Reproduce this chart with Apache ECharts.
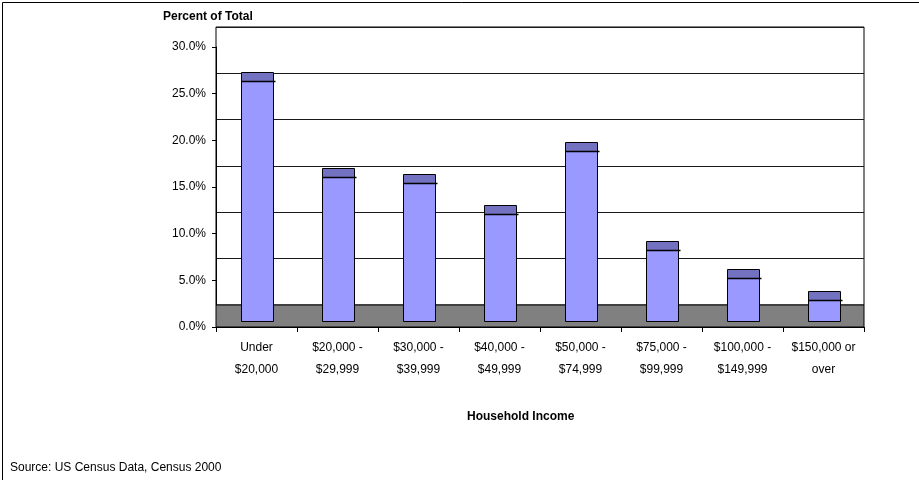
<!DOCTYPE html>
<html>
<head>
<meta charset="utf-8">
<title>Household Income Distribution</title>
<script src="https://cdn.jsdelivr.net/npm/echarts@6/dist/echarts.min.js"></script>
<style>
  html, body { margin: 0; padding: 0; background: #fff; }
  #chart { width: 919px; height: 480px; }
</style>
</head>
<body>
<div id="chart"></div>
<script>
// Household income brackets and their share of all households (percent)
const categories = [
  'Under\n$20,000',
  '$20,000 -\n$29,999',
  '$30,000 -\n$39,999',
  '$40,000 -\n$49,999',
  '$50,000 -\n$74,999',
  '$75,000 -\n$99,999',
  '$100,000 -\n$149,999',
  '$150,000 or\nover'
];
const shares = [25.7, 15.4, 14.8, 11.5, 18.2, 7.6, 4.6, 2.2];
const valueTicks = [0, 5, 10, 15, 20, 25, 30];

// 3D look: floor depth, how far the column fronts sit behind the floor edge,
// and the visible depth of each column's top face (all in pixels)
const FLOOR_DEPTH = 22;
const FRONT_LIFT = 6;
const TOP_DEPTH = 9;

const FONT = '"Liberation Sans", Arial, sans-serif';

const chart = echarts.init(document.getElementById('chart'), null, { renderer: 'canvas' });

const option = {
  backgroundColor: '#ffffff',
  animation: false,
  textStyle: { fontFamily: FONT, color: '#000' },
  title: [
    { text: 'Percent of Total', left: 163, top: 11, padding: 0,
      textStyle: { fontFamily: FONT, fontSize: 12, fontWeight: 'bold', color: '#000' } },
    { text: 'Household Income', left: 467, top: 411, padding: 0,
      textStyle: { fontFamily: FONT, fontSize: 12, fontWeight: 'bold', color: '#000' } },
    { text: 'Source: US Census Data, Census 2000', left: 10, top: 462, padding: 0,
      textStyle: { fontFamily: FONT, fontSize: 12, fontWeight: 'normal', color: '#000' } }
  ],
  graphic: [
    // chart frame
    { type: 'rect', shape: { x: 2.5, y: 2.5, width: 1000, height: 1000 },
      style: { fill: 'none', stroke: '#000', lineWidth: 1 }, silent: true, z: -10 }
  ],
  grid: [
    // front plane: value axis, category axis, columns
    { left: 216, right: 55, top: 47, bottom: 153 },
    // back wall with its gridlines
    { left: 216, right: 55, top: 27, bottom: 175, show: true,
      borderColor: '#000', borderWidth: 1, backgroundColor: 'transparent' }
  ],
  xAxis: [
    {
      type: 'category', gridIndex: 0, data: categories,
      axisLine: { show: true, lineStyle: { color: '#000', width: 1 } },
      axisTick: { show: true, interval: 0, length: 5, lineStyle: { color: '#000' } },
      axisLabel: { interval: 0, margin: 10, fontSize: 12, lineHeight: 22, color: '#000', fontFamily: FONT },
      splitLine: { show: false }
    },
    { type: 'category', gridIndex: 1, data: categories, show: false }
  ],
  yAxis: [
    {
      type: 'value', gridIndex: 0, min: valueTicks[0], max: valueTicks[valueTicks.length - 1], interval: 5,
      axisLine: { show: true, lineStyle: { color: '#000', width: 1 } },
      axisTick: { show: true, length: 4, lineStyle: { color: '#000' } },
      axisLabel: { margin: 10, fontSize: 12, color: '#000', fontFamily: FONT,
        formatter: v => v.toFixed(1) + '%' },
      splitLine: { show: false }
    },
    {
      type: 'value', gridIndex: 1, min: valueTicks[0], max: valueTicks[valueTicks.length - 1], interval: 5,
      axisLine: { show: false }, axisTick: { show: false }, axisLabel: { show: false },
      splitLine: { show: true, lineStyle: { color: '#1a1a1a', width: 1 } }
    }
  ],
  series: [
    {
      // grey floor of the 3D plot
      type: 'custom', xAxisIndex: 0, yAxisIndex: 0, z: 1, silent: true,
      data: [[0, 0]],
      renderItem(params, api) {
        const cs = params.coordSys;
        const y0 = api.coord([0, 0])[1];
        return {
          type: 'rect',
          shape: { x: cs.x, y: y0 - FLOOR_DEPTH, width: cs.width, height: FLOOR_DEPTH },
          style: { fill: '#808080', stroke: '#000', lineWidth: 1 }
        };
      }
    },
    {
      // 3D columns: front face plus top face
      type: 'custom', xAxisIndex: 0, yAxisIndex: 0, z: 3,
      data: shares.map((v, i) => [i, v]),
      encode: { x: 0, y: 1 },
      renderItem(params, api) {
        const i = api.value(0);
        const v = api.value(1);
        const base = api.coord([i, 0]);
        const top = api.coord([i, v]);
        const w = Math.round(api.size([1, 0])[0] * 0.4);
        const x = Math.round(base[0] - w / 2) + 0.5;
        const yBase = Math.round(base[1] - FRONT_LIFT) + 0.5;
        const yTop = Math.round(top[1] - FRONT_LIFT) + 0.5;
        return {
          type: 'group',
          children: [
            { type: 'rect', shape: { x: x, y: yTop, width: w, height: yBase - yTop },
              style: { fill: '#9999FF', stroke: '#000', lineWidth: 1 } },
            { type: 'rect', shape: { x: x, y: yTop - TOP_DEPTH, width: w, height: TOP_DEPTH },
              style: { fill: '#7272C0', stroke: '#000', lineWidth: 1 } },
            { type: 'line', shape: { x1: x, y1: yTop, x2: x + w + 2, y2: yTop },
              style: { stroke: '#000', lineWidth: 1.5 } }
          ]
        };
      }
    }
  ]
};

chart.setOption(option);
</script>
</body>
</html>
